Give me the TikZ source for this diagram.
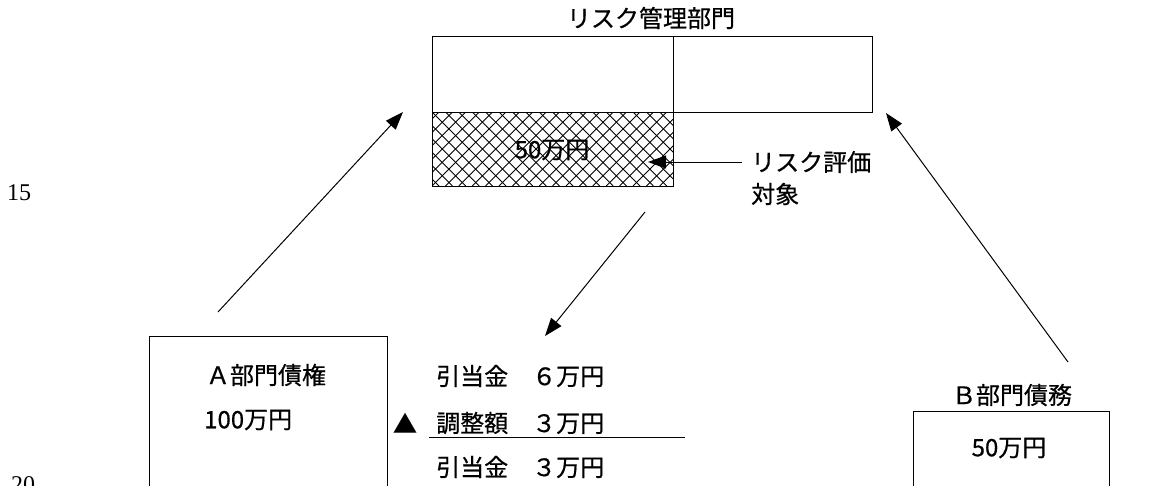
\documentclass[tikz,border=0pt]{standalone}
\usepackage{fontspec}
\setmainfont{Noto Sans CJK JP}[FakeBold=0.6]
\newfontfamily\numfont{Liberation Serif}
\usetikzlibrary{arrows.meta}
\begin{document}
\begin{tikzpicture}[x=1pt,y=-1pt,
  box/.style={draw=black,line width=0.9pt,inner sep=0pt,anchor=north west},
  lbl/.style={inner sep=0pt,font=\fontsize{24}{28}\selectfont},
  numlbl/.style={inner sep=0pt,font=\numfont\fontsize{24}{26}\selectfont},
  hatch/.style={line width=0.9pt},
  conn/.style={line width=1pt,-{Triangle[length=18pt,width=13pt]}}]
\useasboundingbox (0,0) rectangle (1168,485);
\clip (0,0) rectangle (1168,485);
% management department
\node[lbl] (title) at (651,18) {リスク管理部門};
\node[box,minimum width=241pt,minimum height=76pt] (mgmtL) at (432,36) {};
\node[box,minimum width=199pt,minimum height=76pt] (mgmtR) at (673,36) {};
\begin{scope}
\clip (432,112) rectangle (673,186);
\foreach \i in {-7,...,19} {
  \draw[hatch] (432+13.4*\i,112) -- ++(74,74);
  \draw[hatch] (432+13.4*\i,186) -- ++(74,-74);
}
\end{scope}
\node[box,minimum width=241pt,minimum height=74pt] (eval) at (432,112) {};
\node[lbl] (evalamt) at (552,150) {50万円};
\node[lbl,anchor=west] (evallbl) at (751,162) {リスク評価};
\node[lbl,anchor=west] (evallbl2) at (751,194) {対象};
\coordinate (evaltip) at (648,162);
\draw[conn] ([xshift=-9pt]evallbl.west) -- (evaltip);
% A department
\node[box,minimum width=238pt,minimum height=160pt] (aBox) at (149,336) {};
\node[lbl] (aTitle) at (266,375) {Ａ部門債権};
\node[lbl,anchor=west] (aAmt) at (204,420) {100万円};
% allowance texts
\node[lbl,anchor=west] (r1) at (436,376) {引当金　６万円};
\node[lbl,anchor=west] (r2) at (436,423) {調整額　３万円};
\node[lbl,anchor=west] (r3) at (436,467) {引当金　３万円};
\node[lbl] (tri) at (405,423) {▲};
\coordinate (ulL) at (429,437);
\coordinate (ulR) at (685,437);
\draw[line width=0.9pt] (ulL) -- (ulR);
% B department
\node[lbl] (bTitle) at (1012,395) {Ｂ部門債務};
\node[box,minimum width=196pt,minimum height=90pt] (bBox) at (913,411) {};
\node[lbl] (bAmt) at (1009,448) {50万円};
% connectors
\coordinate (aStart) at (218,312);
\coordinate (aTip) at (403,112);
\coordinate (bStart) at (1068,362);
\coordinate (bTip) at (886,113);
\coordinate (dStart) at (645,212);
\coordinate (dTip) at (545,336);
\draw[conn] (aStart) -- (aTip);
\draw[conn] (bStart) -- (bTip);
\draw[conn] (dStart) -- (dTip);
% line numbers
\node[numlbl] (n15) at (19,193) {15};
\node[numlbl] (n20) at (23,485) {20};
\end{tikzpicture}
\end{document}
